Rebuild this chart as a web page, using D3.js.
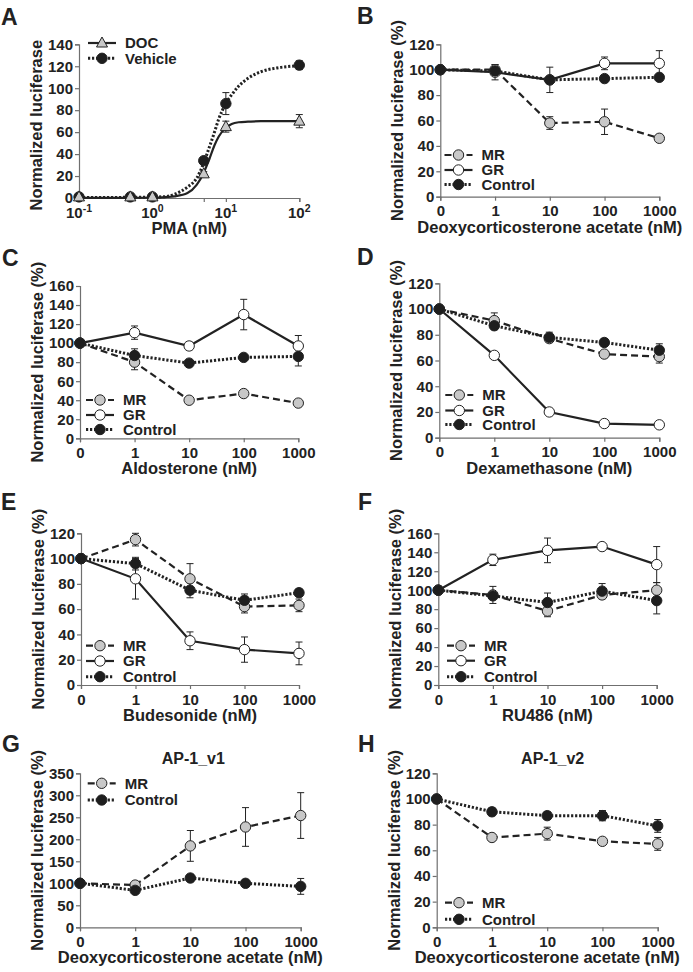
<!DOCTYPE html>
<html><head><meta charset="utf-8">
<script src="https://cdn.jsdelivr.net/npm/d3@7"></script>
<style>
html,body{margin:0;padding:0;background:#fff;}
svg{display:block;font-family:"Liberation Sans",Arial,Helvetica,sans-serif;font-weight:bold;}
</style></head>
<body>
<svg id="c" width="693" height="972"></svg>
<script>
// ---------------- DATA ----------------
const CATS = ["0", "1", "10", "100", "1000"];

// Panel A (PMA, log axis)
const PMA_X = [0.1, 0.5, 1, 5, 10, 100];
const A_DOC = [1, 1, 1, 22, 65, 70];
const A_DOC_ERR = [0, 0, 0, 2, 5, 6];
const A_VEH = [1, 1, 1, 34, 86, 121];
const A_VEH_ERR = [0, 0, 0, 3, 10, 4];
// fitted curves
const FIT_X = [0.1, 0.5, 1, 1.5, 2, 3, 4, 5, 6, 7, 8, 10, 12, 15, 20, 30, 50, 100];
const FIT_DOC = [0.2, 0.2, 0.3, 0.8, 1.5, 4.5, 12, 23, 36, 48, 56, 64, 67.5, 69, 69.5, 70, 70, 70];
const FIT_VEH = [0.5, 0.6, 0.9, 1.2, 3.5, 10, 18, 32, 47, 60, 72, 86, 94, 102, 109, 115, 118.5, 120.5];
const A_TICKS_Y = [0, 20, 40, 60, 80, 100, 120, 140];

// Panel B: Deoxycorticosterone acetate
const B_MR = [100, 100, 58, 59, 46];   const B_MR_ERR = [0, 4, 5, 10, 2];
const B_GR = [100, 98, 92, 105, 105];  const B_GR_ERR = [0, 6, 10, 5, 10];
const B_CT = [100, 99, 92, 93, 94];    const B_CT_ERR = [0, 2, 2, 2, 2];
// Panel C: Aldosterone
const C_MR = [100, 80, 40, 47, 37];    const C_MR_ERR = [0, 8, 2, 2, 2];
const C_GR = [100, 111, 97, 130, 97];  const C_GR_ERR = [0, 7, 4, 16, 11];
const C_CT = [100, 87, 79, 85, 86];    const C_CT_ERR = [0, 7, 3, 2, 10];
// Panel D: Dexamethasone
const D_MR = [100, 91, 77, 65, 63];    const D_MR_ERR = [0, 6, 3, 2, 5];
const D_GR = [100, 64, 20, 11, 10];    const D_GR_ERR = [0, 1, 1, 1, 1];
const D_CT = [100, 87, 78, 74, 68];    const D_CT_ERR = [0, 3, 4, 3, 5];
// Panel E: Budesonide
const E_MR = [100, 115, 84, 62, 63];   const E_MR_ERR = [0, 5, 12, 5, 5];
const E_GR = [100, 84, 35, 28, 25];    const E_GR_ERR = [0, 16, 7, 10, 9];
const E_CT = [100, 96, 75, 67, 73];    const E_CT_ERR = [0, 5, 6, 5, 3];
// Panel F: RU486
const F_MR = [100, 95, 78, 95, 100];   const F_MR_ERR = [0, 9, 6, 3, 8];
const F_GR = [100, 132, 142, 146, 127]; const F_GR_ERR = [0, 6, 13, 1, 19];
const F_CT = [100, 94, 87, 99, 89];    const F_CT_ERR = [0, 3, 10, 8, 14];
// Panel G: AP-1_v1
const G_MR = [100, 96, 185, 228, 254]; const G_MR_ERR = [0, 3, 35, 44, 52];
const G_CT = [100, 84, 112, 100, 93];  const G_CT_ERR = [0, 3, 8, 5, 18];
// Panel H: AP-1_v2
const H_MR = [100, 70, 73, 67, 65];    const H_MR_ERR = [0, 2, 5, 2, 5];
const H_CT = [100, 90, 87, 87, 79];    const H_CT_ERR = [0, 3, 3, 4, 5];

const TICKS_120 = [0, 20, 40, 60, 80, 100, 120];
const TICKS_160 = [0, 20, 40, 60, 80, 100, 120, 140, 160];
const TICKS_350 = [0, 50, 100, 150, 200, 250, 300, 350];

// ---------------- STYLE ----------------
const INK = "#222";
const AXIS = "#6f6f6f";
const STY = {
  MR: {fill: "#c8c8c8", dash: "7,4", width: 2.2},
  GR: {fill: "#ffffff", dash: null, width: 2.2},
  Control: {fill: "#1e1e1e", dash: "2.2,1.8", width: 3},
  DOC: {fill: "#c8c8c8", dash: null, width: 2.2, tri: true},
  Vehicle: {fill: "#1e1e1e", dash: "2.2,1.8", width: 3}
};

const svg = d3.select("#c");

function marker(g, name, cx, cy) {
  const s = STY[name];
  if (s.tri) {
    const h = 10, w = 11;
    g.append("path")
      .attr("d", `M${cx},${cy - h * 0.6}L${cx + w / 2},${cy + h * 0.4}L${cx - w / 2},${cy + h * 0.4}Z`)
      .attr("fill", s.fill).attr("stroke", INK).attr("stroke-width", 1);
  } else {
    g.append("circle").attr("cx", cx).attr("cy", cy).attr("r", 5.2)
      .attr("fill", s.fill).attr("stroke", INK).attr("stroke-width", 1);
  }
}

function styleLine(sel, name) {
  const s = STY[name];
  sel.attr("fill", "none").attr("stroke", INK).attr("stroke-width", s.width);
  if (s.dash) sel.attr("stroke-dasharray", s.dash);
  return sel;
}

function styleAxis(sel) {
  sel.select(".domain").attr("stroke", AXIS).attr("stroke-width", 1.2);
  sel.selectAll(".tick line").attr("stroke", AXIS).attr("stroke-width", 1.2);
  sel.selectAll(".tick text").attr("fill", INK).attr("font-size", 15)
    .attr("font-family", "Liberation Sans, Arial, sans-serif").attr("font-weight", "bold");
}

function labels(g, cfg) {
  g.append("text")
    .attr("transform", `translate(${cfg.xL - 37},${(cfg.yTop + cfg.yBot) / 2 + (cfg.yTitleShift || 0)}) rotate(-90)`)
    .attr("text-anchor", "middle").attr("font-size", 16.5).attr("fill", INK)
    .text(cfg.yTitle);
  g.append("text")
    .attr("x", (cfg.xL + cfg.xR) / 2).attr("y", cfg.yBot + 36)
    .attr("text-anchor", "middle").attr("font-size", 16.5).attr("fill", INK)
    .text(cfg.xTitle);
  g.append("text").attr("x", cfg.letterX).attr("y", cfg.letterY)
    .attr("font-size", 23).attr("fill", INK).text(cfg.letter);
  if (cfg.title) {
    g.append("text").attr("x", cfg.title.x).attr("y", cfg.title.y)
      .attr("text-anchor", "middle").attr("font-size", 16).attr("fill", INK).text(cfg.title.text);
  }
}

function legend(g, names, cx, rows) {
  names.forEach((n, i) => {
    const yy = rows[i];
    styleLine(g.append("line").attr("x1", cx - 14).attr("x2", cx + 14).attr("y1", yy).attr("y2", yy), n);
    marker(g, n, cx, yy);
    g.append("text").attr("x", cx + 23).attr("y", yy).attr("dy", "0.36em")
      .attr("font-size", 15).attr("fill", INK).text(n);
  });
}

function series(g, x, y, xs, vals, errs, name) {
  const pts = xs.map((xv, i) => ({x: x(xv), y: y(vals[i]), e: errs[i], v: vals[i]}));
  pts.forEach(p => {
    if (!p.e) return;
    const y1 = y(p.v + p.e), y2 = y(p.v - p.e);
    g.append("line").attr("x1", p.x).attr("x2", p.x).attr("y1", y1).attr("y2", y2)
      .attr("stroke", INK).attr("stroke-width", 1);
    [y1, y2].forEach(yy => g.append("line").attr("x1", p.x - 3.5).attr("x2", p.x + 3.5)
      .attr("y1", yy).attr("y2", yy).attr("stroke", INK).attr("stroke-width", 1));
  });
  return pts;
}

// ---------------- CATEGORY PANELS ----------------
function catPanel(cfg) {
  const g = svg.append("g");
  const x = d3.scalePoint().domain(CATS).range([cfg.xL, cfg.xR]);
  const y = d3.scaleLinear().domain([0, d3.max(cfg.yTicks)]).range([cfg.yBot, cfg.yTop]);
  const ya = g.append("g").attr("transform", `translate(${cfg.xL},0)`)
    .call(d3.axisLeft(y).tickValues(cfg.yTicks).tickSize(4).tickPadding(2));
  styleAxis(ya);
  const xa = g.append("g").attr("transform", `translate(0,${cfg.yBot})`)
    .call(d3.axisBottom(x).tickSize(4).tickPadding(5));
  styleAxis(xa);
  labels(g, cfg);
  const line = d3.line().x(d => d.x).y(d => d.y);
  const all = cfg.series.map(s => ({s, pts: series(g, x, y, CATS, s.vals, s.err, s.name)}));
  all.forEach(({s, pts}) => {
    styleLine(g.append("path").attr("d", line(pts)), s.name);
  });
  all.forEach(({s, pts}) => pts.forEach(p => marker(g, s.name, p.x, p.y)));
  legend(g, cfg.series.map(s => s.name), cfg.legX, cfg.legRows);
}

// ---------------- PANEL A ----------------
(function panelA() {
  const cfg = {xL: 79, xR: 299.3, yTop: 44.3, yBot: 198, yTitle: "Normalized luciferase",
    xTitle: "PMA (nM)", letter: "A", letterX: 1, letterY: 25, yTitleShift: 4};
  const g = svg.append("g");
  const x = d3.scaleLog().domain([0.1, 100]).range([cfg.xL, cfg.xR]);
  const y = d3.scaleLinear().domain([0, 140]).range([cfg.yBot, cfg.yTop]);
  const ya = g.append("g").attr("transform", `translate(${cfg.xL},0)`)
    .call(d3.axisLeft(y).tickValues(A_TICKS_Y).tickSize(4).tickPadding(2));
  styleAxis(ya);
  const xa = g.append("g").attr("transform", `translate(0,${cfg.yBot})`)
    .call(d3.axisBottom(x).tickValues(PMA_X).tickSize(4).tickFormat(""));
  styleAxis(xa);
  const decades = [0.1, 1, 10, 100];
  decades.forEach(d => {
    const t = g.append("text").attr("x", x(d)).attr("y", cfg.yBot + 20)
      .attr("text-anchor", "middle").attr("font-size", 15).attr("fill", INK);
    t.append("tspan").text("10");
    t.append("tspan").attr("dy", -6).attr("font-size", 10.5).text(String(Math.round(Math.log10(d))));
  });
  labels(g, cfg);
  const fit = d3.line().x(d => x(d[0])).y(d => y(d[1])).curve(d3.curveMonotoneX);
  series(g, x, y, PMA_X, A_DOC, A_DOC_ERR, "DOC");
  series(g, x, y, PMA_X, A_VEH, A_VEH_ERR, "Vehicle");
  styleLine(g.append("path").attr("d", fit(FIT_X.map((v, i) => [v, FIT_DOC[i]]))), "DOC");
  styleLine(g.append("path").attr("d", fit(FIT_X.map((v, i) => [v, FIT_VEH[i]]))), "Vehicle");
  PMA_X.forEach((xv, i) => marker(g, "Vehicle", x(xv), y(A_VEH[i])));
  PMA_X.forEach((xv, i) => marker(g, "DOC", x(xv), y(A_DOC[i])));
  legend(g, ["DOC", "Vehicle"], 102, [43, 58.3]);
})();

catPanel({xL: 440.3, xR: 659.3, yTop: 44.3, yBot: 196.7, yTicks: TICKS_120,
  yTitle: "Normalized luciferase (%)", xTitle: "Deoxycorticosterone acetate (nM)",
  letter: "B", letterX: 357, letterY: 24,
  series: [{name: "MR", vals: B_MR, err: B_MR_ERR}, {name: "GR", vals: B_GR, err: B_GR_ERR},
           {name: "Control", vals: B_CT, err: B_CT_ERR}],
  legX: 458.5, legRows: [155, 170, 184.5]});

catPanel({xL: 80, xR: 298.3, yTop: 286, yBot: 438.3, yTicks: TICKS_160,
  yTitle: "Normalized luciferase (%)", xTitle: "Aldosterone (nM)",
  letter: "C", letterX: 2, letterY: 266,
  series: [{name: "MR", vals: C_MR, err: C_MR_ERR}, {name: "GR", vals: C_GR, err: C_GR_ERR},
           {name: "Control", vals: C_CT, err: C_CT_ERR}],
  legX: 100, legRows: [400, 415, 429.5]});

catPanel({xL: 439.3, xR: 659.3, yTop: 283.3, yBot: 437.7, yTicks: TICKS_120,
  yTitle: "Normalized luciferase (%)", xTitle: "Dexamethasone (nM)",
  letter: "D", letterX: 357, letterY: 265,
  series: [{name: "MR", vals: D_MR, err: D_MR_ERR}, {name: "GR", vals: D_GR, err: D_GR_ERR},
           {name: "Control", vals: D_CT, err: D_CT_ERR}],
  legX: 459.3, legRows: [395, 410.5, 424.5]});

catPanel({xL: 81, xR: 299, yTop: 533.3, yBot: 685, yTicks: TICKS_120,
  yTitle: "Normalized luciferase (%)", xTitle: "Budesonide (nM)",
  letter: "E", letterX: 1, letterY: 510,
  series: [{name: "MR", vals: E_MR, err: E_MR_ERR}, {name: "GR", vals: E_GR, err: E_GR_ERR},
           {name: "Control", vals: E_CT, err: E_CT_ERR}],
  legX: 100, legRows: [645.7, 661, 676.7]});

catPanel({xL: 438.3, xR: 656.7, yTop: 533.3, yBot: 685, yTicks: TICKS_160,
  yTitle: "Normalized luciferase (%)", xTitle: "RU486 (nM)",
  letter: "F", letterX: 358, letterY: 510,
  series: [{name: "MR", vals: F_MR, err: F_MR_ERR}, {name: "GR", vals: F_GR, err: F_GR_ERR},
           {name: "Control", vals: F_CT, err: F_CT_ERR}],
  legX: 461, legRows: [645.7, 660.7, 676.7]});

catPanel({xL: 80, xR: 300.7, yTop: 773.3, yBot: 927.3, yTicks: TICKS_350,
  yTitle: "Normalized luciferase (%)", xTitle: "Deoxycorticosterone acetate (nM)",
  letter: "G", letterX: 2, letterY: 752, title: {text: "AP-1_v1", x: 193.3, y: 764},
  series: [{name: "MR", vals: G_MR, err: G_MR_ERR}, {name: "Control", vals: G_CT, err: G_CT_ERR}],
  legX: 101.7, legRows: [783.3, 800]});

catPanel({xL: 436.7, xR: 657.7, yTop: 773.3, yBot: 927.3, yTicks: TICKS_120,
  yTitle: "Normalized luciferase (%)", xTitle: "Deoxycorticosterone acetate (nM)",
  letter: "H", letterX: 358, letterY: 752, title: {text: "AP-1_v2", x: 552.7, y: 764},
  series: [{name: "MR", vals: H_MR, err: H_MR_ERR}, {name: "Control", vals: H_CT, err: H_CT_ERR}],
  legX: 459, legRows: [902.7, 919.3]});
</script>
</body></html>
